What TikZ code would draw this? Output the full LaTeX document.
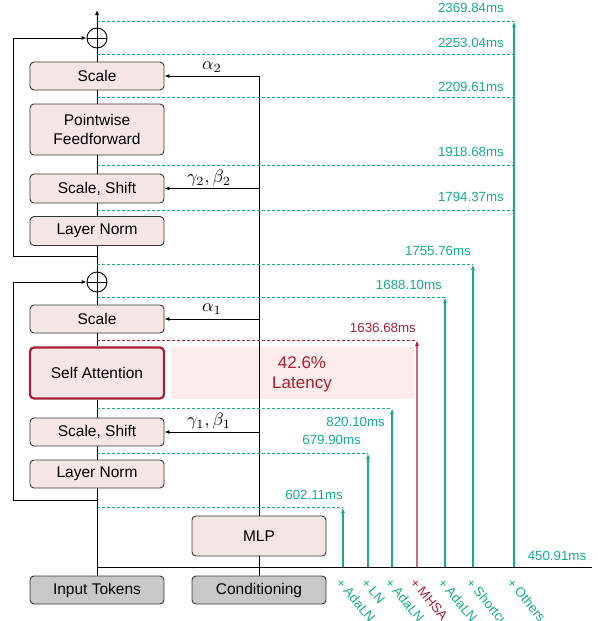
\documentclass[tikz,border=0pt]{standalone}
\usepackage{graphicx}
\usepackage{fontspec}
\setmainfont{Liberation Sans}
\usetikzlibrary{arrows.meta}
\definecolor{teal1}{RGB}{22,172,140}
\definecolor{red1}{RGB}{168,32,52}
\definecolor{redl}{RGB}{200,110,120}
\definecolor{boxfill}{RGB}{244,230,228}
\definecolor{grayfill}{RGB}{200,200,200}
\definecolor{latfill}{RGB}{251,235,234}
\definecolor{edge}{RGB}{55,55,55}
\newcommand{\mbig}[1]{\scalebox{1.8}{$#1$}}
\begin{document}
\begin{tikzpicture}[x=1pt,y=-1pt,
  blk/.style={draw=edge, line width=0.9pt, rounded corners=4pt, fill=boxfill,
    minimum width=134pt, inner sep=0pt, align=center,
    font=\fontsize{15.5}{18.5}\selectfont},
  grayblk/.style={blk, fill=grayfill},
  plusnode/.style={draw=black, line width=0.9pt, circle, minimum size=20pt, inner sep=0pt},
  wire/.style={draw=black, line width=0.9pt},
  arr/.style={wire, -{Latex[length=5pt,width=4pt]}},
  tealdash/.style={draw=teal1, line width=0.9pt, dash pattern=on 3pt off 2pt},
  redldash/.style={draw=red1, line width=0.9pt, dash pattern=on 3pt off 2pt},
  tealarr/.style={draw=teal1, line width=1.1pt, -{Latex[length=6pt,width=4pt]}},
  redarr/.style={draw=redl, line width=1.4pt, -{Latex[length=6pt,width=4pt,color=red1]}},
  tlab/.style={text=teal1, font=\fontsize{13.3}{15}\selectfont, inner sep=0pt, anchor=east},
  rlab/.style={text=red1, font=\fontsize{13.3}{15}\selectfont, inner sep=0pt, anchor=east},
  mlab/.style={inner sep=0pt},
  blab/.style={font=\fontsize{13.3}{15}\selectfont, inner sep=0pt, anchor=west, rotate=-50}
]
\useasboundingbox (0,0) rectangle (597,621);
\clip (0,0) rectangle (597,621);

% latency highlight
\node[fill=latfill, rounded corners=2pt, minimum width=243pt, minimum height=52pt, inner sep=0pt] (lat) at (292.5,373) {};
\node[text=red1, font=\fontsize{17}{20}\selectfont, align=center, inner sep=0pt] (lattxt) at (302,374) {42.6\%\\Latency};

% blocks
\node[blk, minimum height=28pt] (sc2) at (97,76) {Scale};
\node[blk, minimum height=51pt] (pf) at (97,129.5) {Pointwise\\Feedforward};
\node[blk, minimum height=29pt] (ss2) at (97,188.5) {Scale, Shift};
\node[blk, minimum height=29pt] (ln2) at (97,231) {Layer Norm};
\node[plusnode] (p2) at (97,38) {};
\node[plusnode] (p1) at (97,282) {};
\node[blk, minimum height=28pt] (sc1) at (97,319) {Scale};
\node[blk, draw=red1, line width=2.2pt, minimum height=51pt] (sa) at (97,373) {Self Attention};
\node[blk, minimum height=28pt] (ss1) at (97,432) {Scale, Shift};
\node[blk, minimum height=28pt] (ln1) at (97,474) {Layer Norm};
\node[grayblk, minimum height=28pt] (in) at (97,590) {Input Tokens};
\node[blk, minimum height=40pt] (mlp) at (259,536) {MLP};
\node[grayblk, minimum height=28pt] (cond) at (259,590) {Conditioning};

\draw[line width=0.9pt] (p2.north) -- (p2.south) (p2.west) -- (p2.east);
\draw[line width=0.9pt] (p1.north) -- (p1.south) (p1.west) -- (p1.east);

% spine
\coordinate (top) at (97,10);
\draw[wire] (in.north) -- (ln1.south);
\draw[wire] (ln1.north) -- (ss1.south);
\draw[wire] (ss1.north) -- (sa.south);
\draw[wire] (sa.north) -- (sc1.south);
\draw[wire] (sc1.north) -- (p1.south);
\draw[wire] (p1.north) -- (ln2.south);
\draw[wire] (ln2.north) -- (ss2.south);
\draw[wire] (ss2.north) -- (pf.south);
\draw[wire] (pf.north) -- (sc2.south);
\draw[wire] (sc2.north) -- (p2.south);
\draw[arr] (p2.north) -- (top);

% skip loops
\coordinate (k1) at (97,500);
\coordinate (k2) at (97,256);
\draw[arr] (k1) -- (13,500) |- (p1.west);
\draw[arr] (k2) -- (13,256) |- (p2.west);

% conditioning
\coordinate (ctop) at (259,76);
\coordinate (cg2) at (259,188.5);
\coordinate (ca1) at (259,319);
\coordinate (cg1) at (259,432);
\draw[wire] (cond.north) -- (mlp.south);
\draw[wire] (mlp.north) -- (ctop);
\draw[arr] (ctop) -- (sc2.east);
\draw[arr] (cg2) -- (ss2.east);
\draw[arr] (ca1) -- (sc1.east);
\draw[arr] (cg1) -- (ss1.east);
\node[mlab] (la2) at (212,67) {\mbig{\alpha_2}};
\node[mlab] (lg2) at (209,178) {\mbig{\gamma_2,\beta_2}};
\node[mlab] (la1) at (212,309) {\mbig{\alpha_1}};
\node[mlab] (lg1) at (209,421) {\mbig{\gamma_1,\beta_1}};

% baseline
\coordinate (b0) at (97,567);
\coordinate (b1) at (592,567);
\draw[line width=1pt] (b0) -- (b1);

% latency arrows
\foreach \n/\x/\y in {a/343/507, b/368/453, c/392/408, e/445/297, f/473/264, g/514/21} {
  \coordinate (f\n) at (\x,567);
  \coordinate (t\n) at (\x,\y);
  \coordinate (s\n) at (97,\y);
  \draw[tealdash] (s\n) -- (t\n);
  \draw[tealarr] (f\n) -- (t\n);
}
\coordinate (fd) at (417,567);
\coordinate (td) at (417,340);
\coordinate (sd) at (97,340);
\draw[redldash] (sd) -- (td);
\draw[redarr] (fd) -- (td);
\foreach \n/\y in {u1/54, u2/97, u3/165, u4/210} {
  \coordinate (s\n) at (97,\y);
  \coordinate (e\n) at (514,\y);
  \draw[tealdash] (s\n) -- (e\n);
}

% time labels
\node[tlab] (l1) at (504,8) {2369.84ms};
\node[tlab] (l2) at (504,43) {2253.04ms};
\node[tlab] (l3) at (504,87) {2209.61ms};
\node[tlab] (l4) at (504,152) {1918.68ms};
\node[tlab] (l5) at (504,197) {1794.37ms};
\node[tlab] (l6) at (471,251) {1755.76ms};
\node[tlab] (l7) at (442,285) {1688.10ms};
\node[rlab] (l8) at (416,328) {1636.68ms};
\node[tlab] (l9) at (385,422) {820.10ms};
\node[tlab] (l10) at (361,440) {679.90ms};
\node[tlab] (l11) at (343,495) {602.11ms};
\node[tlab, anchor=center] (l12) at (557,556) {450.91ms};

% bottom labels
\node[blab, text=teal1] (c1) at (339,580) {+ AdaLN};
\node[blab, text=teal1] (c2) at (364,580) {+ LN};
\node[blab, text=teal1] (c3) at (388,580) {+ AdaLN 1};
\node[blab, text=red1] (c4) at (413,580) {+ MHSA};
\node[blab, text=teal1] (c5) at (441,580) {+ AdaLN 2};
\node[blab, text=teal1] (c6) at (469,580) {+ Shortcut};
\node[blab, text=teal1] (c7) at (510,580) {+ Others};
\end{tikzpicture}
\end{document}
